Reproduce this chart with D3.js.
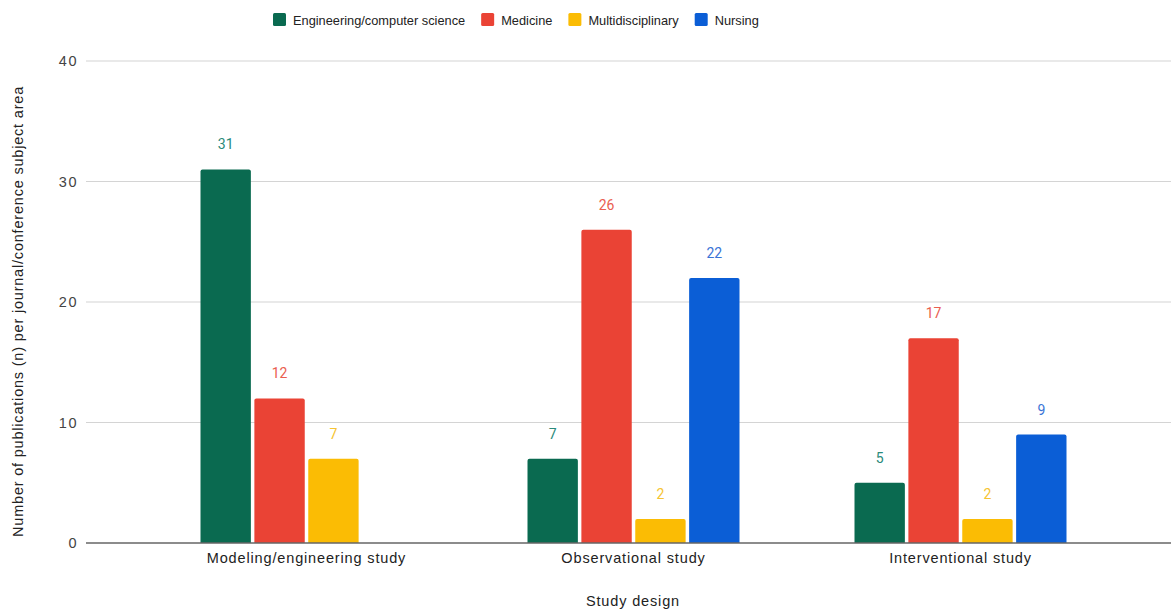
<!DOCTYPE html>
<html>
<head>
<meta charset="utf-8">
<script src="https://cdn.jsdelivr.net/npm/d3@7"></script>
<style>
  html, body { margin: 0; padding: 0; background: #ffffff; }
  svg { display: block; }
</style>
</head>
<body>
<svg id="chart" width="1171" height="611"></svg>
<script>
// Study designs along the x axis
const categories = ["Modeling/engineering study", "Observational study", "Interventional study"];
// Journal/conference subject areas (one bar per area in each study design)
const seriesNames = ["Engineering/computer science", "Medicine", "Multidisciplinary", "Nursing"];
const engineering = [31, 7, 5];
const medicine = [12, 26, 17];
const multidisciplinary = [7, 2, 2];
const nursing = [0, 22, 9];
const yTicks = [0, 10, 20, 30, 40];

const seriesValues = [engineering, medicine, multidisciplinary, nursing];
const colors = ["#0a6a50", "#ea4335", "#fbbc04", "#0b5ed6"];
const labelColors = ["#2a8a7a", "#ea5e50", "#f6c432", "#3a74d6"];

const axisFont = "'Liberation Sans', Arial, sans-serif";
const svg = d3.select("#chart");
const plot = { left: 86, right: 1171, top: 61, bottom: 543 };

const y = d3.scaleLinear().domain([0, 40]).range([plot.bottom, plot.top]);
const x0 = d3.scaleBand().domain(categories).range([143, 1124]).padding(0);
const x1 = d3.scaleBand().domain(seriesNames)
  .range([57.5, x0.bandwidth() - 57.5]).paddingInner(0.065);

// Horizontal gridlines
svg.append("g")
  .selectAll("line")
  .data(yTicks.filter(t => t !== 0))
  .join("line")
  .attr("x1", plot.left).attr("x2", plot.right)
  .attr("y1", d => y(d)).attr("y2", d => y(d))
  .attr("stroke", "#d4d4d4").attr("stroke-width", 1.2);

// Y tick labels
const yAxis = d3.axisLeft(y).tickValues(yTicks).tickSize(0).tickPadding(8);
const gy = svg.append("g").attr("transform", `translate(${plot.left},0)`).call(yAxis);
gy.select(".domain").remove();
gy.selectAll("text")
  .attr("font-family", axisFont)
  .attr("font-size", 14.5).attr("letter-spacing", 1.5).attr("fill", "#444");

// Bars with slightly rounded tops
const groups = svg.append("g").selectAll("g")
  .data(categories)
  .join("g")
  .attr("transform", d => `translate(${x0(d)},0)`);

function topRounded(x, yTop, w, h, r) {
  r = Math.min(r, h, w / 2);
  return `M${x},${yTop + h}V${yTop + r}Q${x},${yTop} ${x + r},${yTop}` +
    `H${x + w - r}Q${x + w},${yTop} ${x + w},${yTop + r}V${yTop + h}Z`;
}

groups.each(function (cat, ci) {
  const g = d3.select(this);
  seriesNames.forEach((s, si) => {
    const v = seriesValues[si][ci];
    if (!v) return;
    const bx = x1(s), bw = x1.bandwidth();
    g.append("path")
      .attr("d", topRounded(bx, y(v), bw, y(0) - y(v), 2))
      .attr("fill", colors[si]);
    g.append("text")
      .attr("x", bx + bw / 2)
      .attr("y", y(v) - 20)
      .attr("text-anchor", "middle")
      .attr("font-family", "Roboto, 'Noto Sans', sans-serif")
      .attr("font-size", 14)
      .attr("fill", labelColors[si])
      .text(v);
  });
});

// Baseline
svg.append("line")
  .attr("x1", plot.left).attr("x2", plot.right)
  .attr("y1", y(0)).attr("y2", y(0))
  .attr("stroke", "#666").attr("stroke-width", 1.5);

// X category labels
const xAxis = d3.axisBottom(x0).tickSize(0).tickPadding(10);
const gx = svg.append("g").attr("transform", `translate(0,${y(0)})`).call(xAxis);
gx.select(".domain").remove();
gx.selectAll("text")
  .attr("font-family", axisFont)
  .attr("font-size", 14.5).attr("letter-spacing", 0.85).attr("fill", "#222");

// Axis titles
svg.append("text")
  .attr("x", 633).attr("y", 606)
  .attr("text-anchor", "middle")
  .attr("font-family", axisFont)
  .attr("font-size", 14.5).attr("letter-spacing", 0.85).attr("fill", "#222")
  .text("Study design");

svg.append("text")
  .attr("transform", `translate(23,${(88 + 535) / 2}) rotate(-90)`)
  .attr("text-anchor", "middle")
  .attr("font-family", axisFont)
  .attr("font-size", 14.5).attr("letter-spacing", 0.8).attr("fill", "#222")
  .text("Number of publications (n) per journal/conference subject area");

// Legend
const legend = svg.append("g");
let lx = 273;
seriesNames.forEach((s, i) => {
  legend.append("rect")
    .attr("x", lx).attr("y", 13).attr("width", 13).attr("height", 13)
    .attr("rx", 1.5).attr("fill", colors[i]);
  const t = legend.append("text")
    .attr("x", lx + 20).attr("y", 24.5)
    .attr("font-family", axisFont)
    .attr("font-size", 12.8).attr("fill", "#222")
    .text(s);
  lx += 20 + t.node().getComputedTextLength() + 16;
});
</script>
</body>
</html>
